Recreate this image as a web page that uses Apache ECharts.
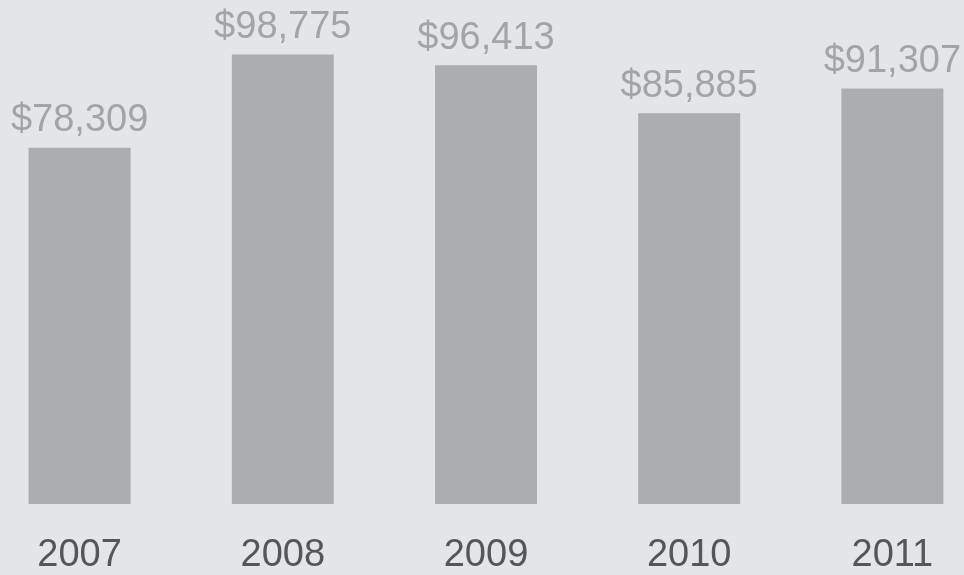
<!DOCTYPE html>
<html>
<head>
<meta charset="utf-8">
<script src="https://cdn.jsdelivr.net/npm/echarts@6/dist/echarts.min.js"></script>
<style>
  html, body { margin: 0; padding: 0; background: #e3e6e9; overflow: hidden; }
  /* chart is a little wider than the window so the outer bars sit near the edges */
  #main { position: absolute; left: -22px; top: 0; width: 1016px; height: 575px; }
</style>
</head>
<body>
<div id="main"></div>
<script>
  // data
  var years = ['2007', '2008', '2009', '2010', '2011'];
  var values = [78309, 98775, 96413, 85885, 91307];

  var chart = echarts.init(document.getElementById('main'));
  chart.setOption({
    backgroundColor: '#e3e6e9',
    animation: false,
    grid: { left: 0, right: 0, top: 49, bottom: 67 },
    xAxis: {
      type: 'category',
      data: years,
      axisLine: { show: false },
      axisTick: { show: false },
      axisLabel: {
        margin: 33,
        fontSize: 38,
        color: '#545658',
        fontFamily: 'Liberation Sans, Arial, sans-serif'
      }
    },
    yAxis: {
      type: 'value',
      min: 0,
      max: 100000,
      show: false,
      splitLine: { show: false }
    },
    series: [{
      type: 'bar',
      data: values,
      barWidth: 102,
      itemStyle: { color: '#abaeb1' },
      label: {
        show: true,
        position: 'top',
        distance: 8,
        fontSize: 38,
        color: '#a2a4a7',
        fontFamily: 'Liberation Sans, Arial, sans-serif',
        formatter: function (p) {
          return '$' + p.value.toLocaleString('en-US');
        }
      }
    }]
  });
</script>
</body>
</html>
